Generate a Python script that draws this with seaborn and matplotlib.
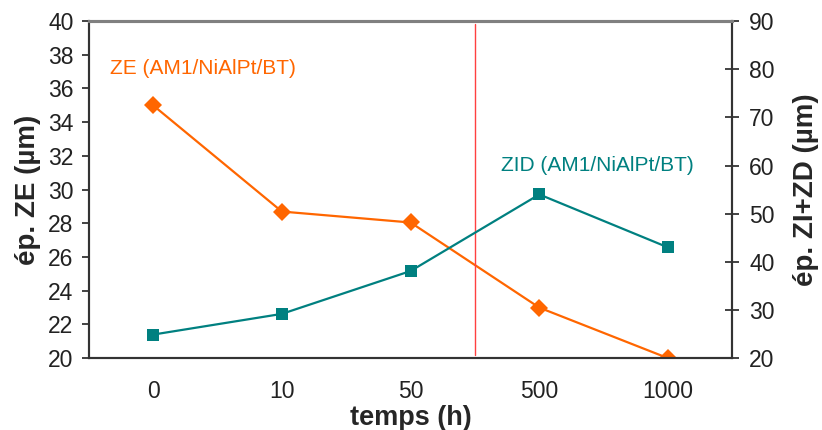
import numpy as np
import pandas as pd
import matplotlib
matplotlib.use('Agg')
import matplotlib.pyplot as plt
import seaborn as sns

temps = ['0', '10', '50', '500', '1000']
ze = [35.0, 28.7, 28.05, 23.0, 20.0]          # ép. ZE (µm), axe gauche
zid = [24.9, 29.2, 38.1, 54.0, 43.0]          # ép. ZI+ZD (µm), axe droit

df = pd.DataFrame({'temps': temps, 'ZE': ze, 'ZID': zid})
df['pos'] = np.arange(len(temps))

sns.set_style('white')
plt.rcParams['font.family'] = ['Liberation Sans', 'DejaVu Sans']

orange = '#FF6600'
teal = '#008080'

fig = plt.figure(figsize=(8.22, 4.30), dpi=100)
ax = fig.add_axes([0.108, 0.167, 0.783, 0.784])
ax2 = ax.twinx()

sns.lineplot(data=df, x='pos', y='ZE', ax=ax, color=orange, marker='D',
             markersize=9.5, markeredgewidth=0, linewidth=1.6, sort=False)
sns.lineplot(data=df, x='pos', y='ZID', ax=ax2, color=teal, marker='s',
             markersize=9, markeredgewidth=0, linewidth=1.6, sort=False)

ax.axvline(2.5, ymin=0.008, ymax=0.99, color='#FF4040', linewidth=1)

ax.set_xlim(-0.5, len(temps) - 0.5)
ax.set_ylim(20, 40)
ax2.set_ylim(20, 90)
ax.set_yticks(np.arange(20, 41, 2))
ax2.set_yticks(np.arange(20, 91, 10))

ax.set_xticks(df['pos'])
ax.set_xticklabels(temps)
ax.set_xticks(np.arange(-0.5, len(temps)), minor=True)
ax.tick_params(axis='x', which='major', length=0, pad=16, labelsize=16.5, colors='#222222')
ax.tick_params(axis='x', which='minor', length=10, width=1.2, direction='inout', color='#333333')
ax.tick_params(axis='y', length=5, width=1.2, direction='out', left=True, labelsize=16.5,
               pad=6, colors='#222222')
ax2.tick_params(axis='y', length=10, width=1.2, direction='inout', right=True, labelsize=16.5,
                pad=7, colors='#222222')

ax.set_xlabel('temps (h)', fontsize=19.5, fontweight='bold', labelpad=1)
ax.set_ylabel('ép. ZE (µm)', fontsize=20, fontweight='bold', labelpad=5)
ax2.set_ylabel('ép. ZI+ZD (µm)', fontsize=20, fontweight='bold', labelpad=13)

for a in (ax, ax2):
    a.spines['top'].set_color('#808080')
    a.spines['top'].set_linewidth(2.2)
    for s in ('left', 'right', 'bottom'):
        a.spines[s].set_color('#333333')
        a.spines[s].set_linewidth(1.5)

ax.text(0.033, 0.858, 'ZE (AM1/NiAlPt/BT)', transform=ax.transAxes, color=orange,
        fontsize=15, va='center', ha='left')
ax2.text(0.641, 0.573, 'ZID (AM1/NiAlPt/BT)', transform=ax.transAxes, color=teal,
         fontsize=15, va='center', ha='left')

fig.savefig('out.png', dpi=100)
